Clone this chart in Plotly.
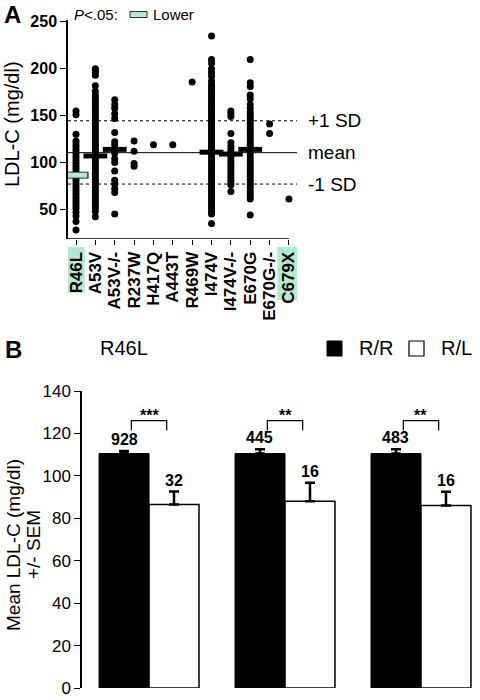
import plotly.graph_objects as go

FONT = "Liberation Sans, Arial, Helvetica, sans-serif"
W, H = 480, 700

# ---------------- Panel A data ----------------
variants = ["R46L", "A53V", "A53V-/-", "R237W", "H417Q", "A443T", "R469W",
            "I474V", "I474V-/-", "E670G", "E670G-/-", "C679X"]

ldl_R46L = [155, 151, 130, 123, 120, 117, 114, 111, 108, 105, 102, 99, 96, 93, 90, 87,
            84, 81, 78, 75, 72, 69, 66, 63, 60, 57, 54, 51, 47, 43, 37, 28]
ldl_A53V = [200, 198, 196, 193, 182, 176, 172, 169, 166, 163, 160, 157, 154, 151, 148, 145,
            142, 139, 136, 133, 130, 127, 124, 121, 118, 115, 112, 109, 106, 103, 100, 97,
            94, 91, 88, 85, 82, 79, 76, 73, 70, 67, 64, 61, 58, 55, 52, 48, 42]
ldl_A53V_hom = [167, 162, 158, 152, 147, 132, 122, 118, 114, 110, 104, 100, 91, 81, 77, 72, 68, 45]
ldl_R237W = [123, 112, 99, 96]
ldl_H417Q = [119]
ldl_A443T = [119]
ldl_R469W = [186]
ldl_I474V = [235, 210, 206, 200, 196, 192, 187, 183, 180, 177, 174, 171, 168, 165, 162, 159,
             156, 153, 150, 147, 144, 141, 138, 135, 132, 129, 126, 123, 120, 117, 114, 111,
             108, 105, 102, 99, 96, 93, 90, 87, 84, 81, 78, 75, 72, 69, 66, 63, 60, 57, 54,
             51, 48, 45, 35]
ldl_I474V_hom = [155, 152, 149, 131, 121, 117, 114, 111, 108, 105, 102, 99, 96, 93, 90, 87,
                 84, 81, 78, 76, 69]
ldl_E670G = [210, 185, 181, 172, 168, 162, 158, 154, 151, 148, 145, 142, 139, 136, 133, 130,
             127, 124, 121, 118, 115, 112, 109, 106, 103, 100, 97, 94, 91, 88, 85, 82, 79,
             76, 73, 70, 67, 64, 61, 44]
ldl_E670G_hom = [141, 131]
ldl_C679X = [61]

variant_values = [ldl_R46L, ldl_A53V, ldl_A53V_hom, ldl_R237W, ldl_H417Q, ldl_A443T,
                  ldl_R469W, ldl_I474V, ldl_I474V_hom, ldl_E670G, ldl_E670G_hom, ldl_C679X]
variant_means = [86.5, 107, 114, None, None, None, None, 111, 109, 114, None, None]
lower_variants = ["R46L", "C679X"]

ref_values = [144.5, 110.5, 77]
ref_labels = ["+1 SD", "mean", "-1 SD"]
ref_dash = ["3px,3px", "solid", "3px,3px"]

# ---------------- Panel B data ----------------
groups = ["All", "Men", "Women"]
rr_mean = [110.5, 110.5, 110.5]
rr_sem = [1.2, 2.0, 2.0]
rl_mean = [86.5, 88.0, 86.0]
rl_sem = [6.1, 8.7, 6.5]
rr_n = ["928", "445", "483"]
rl_n = ["32", "16", "16"]
sig_labels = ["***", "**", "**"]

GREEN = "#b3e9cf"


def px_x(p):
    return p / W


def px_y(p):
    return 1 - p / H


fig = go.Figure()

# scatter dots
xs, ys = [], []
for i, vals in enumerate(variant_values):
    xs += [i] * len(vals)
    ys += vals
fig.add_trace(go.Scatter(x=xs, y=ys, mode="markers", xaxis="x", yaxis="y",
                         marker=dict(size=7, color="black"), hoverinfo="skip"))

# mean markers
mx_black, my_black, mx_green, my_green = [], [], [], []
for i, m in enumerate(variant_means):
    if m is None:
        continue
    if variants[i] in lower_variants:
        mx_green.append(i)
        my_green.append(m)
    else:
        mx_black.append(i)
        my_black.append(m)
fig.add_trace(go.Scatter(x=mx_black, y=my_black, mode="markers", xaxis="x", yaxis="y",
                         marker=dict(symbol="line-ew", size=17, line=dict(width=5, color="black"))))
fig.add_trace(go.Scatter(x=mx_green, y=my_green, mode="markers", xaxis="x", yaxis="y",
                         marker=dict(symbol="line-ew", size=18, line=dict(width=7, color="#333333"))))
fig.add_trace(go.Scatter(x=mx_green, y=my_green, mode="markers", xaxis="x", yaxis="y",
                         marker=dict(symbol="line-ew", size=16, line=dict(width=5, color=GREEN))))

# bars
fig.add_trace(go.Bar(x=[0, 1, 2], y=rr_mean, xaxis="x2", yaxis="y2", name="R/R",
                     marker=dict(color="black", line=dict(color="black", width=1)),
                     error_y=dict(type="data", array=rr_sem, arrayminus=[0, 0, 0], symmetric=False,
                                  color="black", thickness=2.5, width=5)))
fig.add_trace(go.Bar(x=[0, 1, 2], y=rl_mean, xaxis="x2", yaxis="y2", name="R/L",
                     marker=dict(color="white", line=dict(color="black", width=1.5)),
                     error_y=dict(type="data", array=rl_sem, arrayminus=[0, 0, 0], symmetric=False,
                                  color="black", thickness=2.5, width=5)))

shapes = []
annotations = []

# Panel A reference lines
for v, lab, d in zip(ref_values, ref_labels, ref_dash):
    shapes.append(dict(type="line", xref="x", yref="y", x0=-0.413, x1=11.415, y0=v, y1=v,
                       line=dict(color="black", width=1, dash=d)))
    annotations.append(dict(text=lab, xref="paper", yref="y", x=px_x(306), y=v,
                            xanchor="left", yanchor="middle", showarrow=False,
                            font=dict(size=19, color="black", family=FONT)))

# x-axis line for panel A
shapes.append(dict(type="line", xref="x", yref="y", x0=-0.413, x1=11, y0=18.4, y1=18.4,
                   line=dict(color="black", width=1.5)))

# green highlight behind tick labels
for i, v in enumerate(variants):
    if v in lower_variants:
        shapes.append(dict(type="rect", xref="x", yref="paper", x0=i - 0.6, x1=i + 0.45,
                           y0=px_y(300 if v == "C679X" else 293), y1=px_y(247),
                           fillcolor=GREEN, line=dict(width=0), layer="below"))

# Panel A texts
annotations += [
    dict(text="<b>A</b>", xref="paper", yref="paper", x=px_x(2), y=px_y(14), xanchor="left",
         yanchor="middle", showarrow=False, font=dict(size=24, color="black", family=FONT)),
    dict(text="<i>P</i><.05:", xref="paper", yref="paper", x=px_x(72), y=px_y(14),
         xanchor="left", yanchor="middle", showarrow=False,
         font=dict(size=15, color="black", family=FONT)),
    dict(text="Lower", xref="paper", yref="paper", x=px_x(151), y=px_y(14),
         xanchor="left", yanchor="middle", showarrow=False,
         font=dict(size=15, color="black", family=FONT)),
    dict(text="LDL-C (mg/dl)", xref="paper", yref="paper", x=px_x(12), y=px_y(124),
         xanchor="center", yanchor="middle", textangle=-90, showarrow=False,
         font=dict(size=20, color="black", family=FONT)),
]
shapes.append(dict(type="rect", xref="paper", yref="paper", x0=px_x(130), x1=px_x(147),
                   y0=px_y(17.5), y1=px_y(11.5), fillcolor=GREEN,
                   line=dict(color="#333333", width=1)))

# Panel B texts
annotations += [
    dict(text="<b>B</b>", xref="paper", yref="paper", x=px_x(3), y=px_y(349), xanchor="left",
         yanchor="middle", showarrow=False, font=dict(size=24, color="black", family=FONT)),
    dict(text="R46L", xref="paper", yref="paper", x=px_x(98), y=px_y(348), xanchor="left",
         yanchor="middle", showarrow=False, font=dict(size=20, color="black", family=FONT)),
    dict(text="R/R", xref="paper", yref="paper", x=px_x(357), y=px_y(348), xanchor="left",
         yanchor="middle", showarrow=False, font=dict(size=20, color="black", family=FONT)),
    dict(text="R/L", xref="paper", yref="paper", x=px_x(439), y=px_y(348), xanchor="left",
         yanchor="middle", showarrow=False, font=dict(size=20, color="black", family=FONT)),
    dict(text="Mean LDL-C (mg/dl)", xref="paper", yref="paper", x=px_x(13), y=px_y(545),
         xanchor="center", yanchor="middle", textangle=-90, showarrow=False,
         font=dict(size=19, color="black", family=FONT)),
    dict(text="+/- SEM", xref="paper", yref="paper", x=px_x(33), y=px_y(545),
         xanchor="center", yanchor="middle", textangle=-90, showarrow=False,
         font=dict(size=19, color="black", family=FONT)),
]
shapes += [
    dict(type="rect", xref="paper", yref="paper", x0=px_x(327), x1=px_x(342),
         y0=px_y(356), y1=px_y(341), fillcolor="black", line=dict(color="black", width=1)),
    dict(type="rect", xref="paper", yref="paper", x0=px_x(409), x1=px_x(424),
         y0=px_y(356), y1=px_y(341), fillcolor="white", line=dict(color="black", width=1.2)),
]

half = 0.184
for g, name in enumerate(groups):
    annotations.append(dict(text=name, xref="x2", yref="y2", x=g, y=142, xanchor="center",
                            yanchor="middle", showarrow=False,
                            font=dict(size=19, color="black", family=FONT)))
    annotations.append(dict(text="<b>%s</b>" % rr_n[g], xref="x2", yref="y2", x=g - half,
                            y=rr_mean[g] + rr_sem[g], xanchor="center", yanchor="bottom",
                            yshift=1, showarrow=False,
                            font=dict(size=16, color="black", family=FONT)))
    annotations.append(dict(text="<b>%s</b>" % rl_n[g], xref="x2", yref="y2", x=g + half,
                            y=rl_mean[g] + rl_sem[g], xanchor="center", yanchor="bottom",
                            yshift=1, showarrow=False,
                            font=dict(size=16, color="black", family=FONT)))
    annotations.append(dict(text="<b>%s</b>" % sig_labels[g], xref="x2", yref="y2", x=g,
                            y=126, xanchor="center", yanchor="bottom", yshift=-5,
                            showarrow=False, font=dict(size=16, color="black", family=FONT)))
    shapes.append(dict(type="path", xref="x2", yref="y2",
                       path="M %f,121.4 L %f,126 L %f,126 L %f,121.4" % (g - 0.13, g - 0.13, g + 0.13, g + 0.13),
                       line=dict(color="black", width=1.2)))

fig.update_layout(
    width=W, height=H, autosize=False,
    margin=dict(l=0, r=0, t=0, b=0, pad=0, autoexpand=False),
    paper_bgcolor="white", plot_bgcolor="white",
    showlegend=False,
    font=dict(family=FONT, color="black"),
    barmode="group", bargap=0.265, bargroupgap=0,
    xaxis=dict(domain=[px_x(68), px_x(297)], range=[-0.413, 11.415], anchor="y",
               automargin=False, ticklabeloverflow="allow",
               tickmode="array", tickvals=list(range(len(variants))), ticktext=variants,
               tickangle=-90, ticks="outside", ticklen=5, tickwidth=1.2, tickcolor="black",
               showline=False, showgrid=False, zeroline=False,
               tickfont=dict(size=17, weight="bold", family=FONT, color="black")),
    yaxis=dict(domain=[px_y(239), px_y(20)], range=[18.4, 252], anchor="x",
               automargin=False, ticklabeloverflow="allow",
               tickmode="array", tickvals=[50, 100, 150, 200, 250],
               ticks="outside", ticklen=6, tickwidth=1.2, tickcolor="black",
               showline=True, linewidth=1.5, linecolor="black",
               showgrid=False, zeroline=False,
               tickfont=dict(size=16, weight="bold", family=FONT, color="black")),
    xaxis2=dict(domain=[px_x(82), 1], range=[-0.493, 2.434], anchor="y2",
                automargin=False,
                showticklabels=False, ticks="", showline=False, showgrid=False, zeroline=False),
    yaxis2=dict(domain=[px_y(688), px_y(391)], range=[0, 140], anchor="x2",
                automargin=False, ticklabeloverflow="allow",
                tickmode="linear", tick0=0, dtick=20,
                ticks="outside", ticklen=6, tickwidth=1.2, tickcolor="black",
                showline=True, linewidth=1.5, linecolor="black",
                showgrid=False, zeroline=False,
                tickfont=dict(size=17, family=FONT, color="black")),
    shapes=shapes,
    annotations=annotations,
)

fig.write_html("out.html", config={"displayModeBar": False},
               post_script="document.body.style.margin='0';document.body.style.padding='0';")
